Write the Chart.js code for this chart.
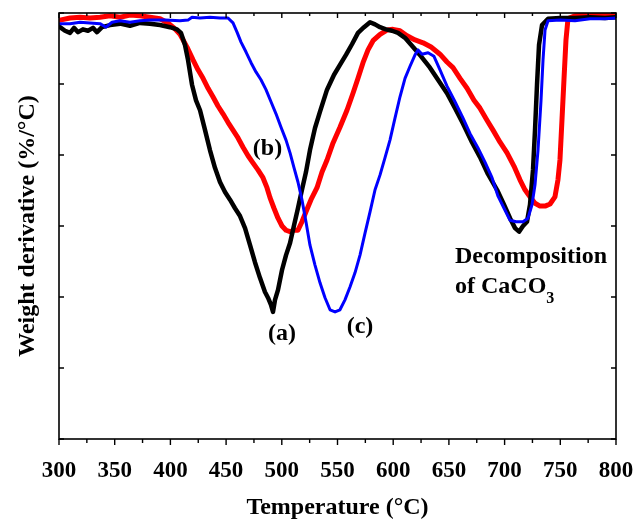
<!DOCTYPE html>
<html><head><meta charset="utf-8">
<script src="https://cdn.jsdelivr.net/npm/chart.js@4.4.1/dist/chart.umd.min.js"></script>
<style>html,body{margin:0;padding:0;background:#fff}canvas{display:block}</style>
</head><body>
<canvas id="c" width="638" height="525"></canvas>
<script>
// Temperature (°C) and weight-derivative values (arbitrary units, axis 0..6)
const tempA = [300.9,305.4,309.9,313.5,317.1,321.5,326.0,330.5,334.1,338.6,345.8,354.8,363.7,372.7,381.7,390.7,399.6,405.9,409.5,413.1,415.8,419.4,423.0,426.6,431.1,435.5,440.0,444.5,449.0,453.5,458.0,462.5,467.0,471.5,475.9,480.4,484.9,487.6,490.3,492.1,493.9,496.6,500.2,503.8,507.4,511.0,514.5,518.1,521.7,525.3,529.8,534.3,540.6,546.9,552.2,557.6,563.0,568.4,573.8,579.2,583.7,588.2,593.5,598.9,604.3,610.6,617.8,625.0,633.0,640.2,648.3,655.5,662.7,670.7,677.9,685.1,693.2,699.5,704.9,709.4,713.0,716.5,720.1,722.8,725.5,727.3,729.1,730.9,733.6,739.0,749.8,763.2,776.7,790.1,800];
const valA = [5.80,5.75,5.72,5.79,5.73,5.77,5.75,5.79,5.73,5.80,5.83,5.85,5.82,5.86,5.85,5.83,5.80,5.77,5.72,5.55,5.34,4.99,4.77,4.63,4.35,4.07,3.82,3.62,3.48,3.37,3.25,3.14,2.97,2.73,2.49,2.27,2.07,1.99,1.89,1.79,1.96,2.10,2.38,2.59,2.76,3.01,3.25,3.51,3.76,4.07,4.38,4.61,4.92,5.13,5.27,5.41,5.56,5.72,5.80,5.87,5.84,5.80,5.77,5.75,5.72,5.65,5.52,5.39,5.23,5.06,4.87,4.66,4.44,4.18,3.97,3.73,3.51,3.30,3.11,2.97,2.92,3.00,3.06,3.30,3.79,4.35,4.99,5.55,5.83,5.92,5.93,5.93,5.94,5.93,5.94];

const tempB = [300.9,309.9,318.9,327.8,336.8,345.8,354.8,363.7,372.7,381.7,390.7,397.8,403.2,408.6,414.9,420.3,424.8,429.3,433.8,438.2,442.7,447.2,451.7,456.2,460.7,465.2,469.7,474.1,478.6,483.1,486.7,489.4,493.0,496.6,500.2,503.8,507.4,511.0,514.5,518.1,521.7,526.2,531.6,536.1,540.6,546.0,552.2,558.5,563.9,568.4,572.9,577.4,581.9,588.2,594.4,599.8,606.1,612.4,619.6,626.8,634.0,642.0,648.3,653.7,660.0,666.3,672.5,677.9,684.2,689.6,695.9,702.2,708.5,713.8,718.3,722.8,727.3,731.8,736.3,740.8,745.2,747.9,749.7,751.5,753.3,755.1,756.9,763.2,772.2,781.2,790.1,800];
const valB = [5.90,5.93,5.94,5.93,5.94,5.96,5.94,5.97,5.96,5.94,5.92,5.86,5.79,5.70,5.52,5.34,5.20,5.08,4.94,4.82,4.69,4.58,4.46,4.35,4.24,4.11,3.99,3.89,3.79,3.68,3.54,3.40,3.25,3.11,3.00,2.94,2.92,2.94,2.94,3.06,3.20,3.37,3.54,3.76,3.93,4.17,4.39,4.63,4.87,5.08,5.30,5.48,5.61,5.70,5.76,5.77,5.75,5.68,5.62,5.58,5.52,5.42,5.31,5.23,5.08,4.94,4.77,4.66,4.49,4.35,4.18,4.03,3.84,3.65,3.51,3.41,3.32,3.28,3.28,3.31,3.41,3.65,3.93,4.49,5.06,5.62,5.92,5.96,5.97,5.99,5.97,5.99];

const tempC = [300.9,309.9,318.9,327.8,336.8,342.2,347.6,354.8,363.7,372.7,381.7,395.2,408.6,415.8,419.4,426.6,435.5,444.5,451.7,456.2,459.8,463.4,467.9,472.4,476.8,481.3,485.8,490.3,494.8,499.3,503.8,507.4,511.0,514.5,518.1,521.7,525.3,529.8,534.3,538.8,543.3,547.8,552.2,556.7,561.2,565.7,570.2,574.7,579.2,583.7,588.2,592.6,597.1,601.6,606.1,610.6,615.1,619.6,622.3,625.9,631.3,636.6,642.0,648.3,655.5,662.7,669.0,676.1,682.4,688.7,694.1,699.5,704.9,710.3,716.5,721.0,724.6,727.3,730.0,732.7,734.5,736.3,739.0,749.8,763.2,776.7,790.1,800];
const valC = [5.85,5.85,5.87,5.86,5.85,5.80,5.87,5.89,5.87,5.89,5.90,5.90,5.89,5.90,5.94,5.93,5.94,5.93,5.93,5.86,5.73,5.59,5.45,5.30,5.17,5.06,4.92,4.75,4.58,4.39,4.21,4.03,3.82,3.62,3.37,3.06,2.73,2.45,2.20,1.99,1.82,1.79,1.82,1.96,2.14,2.34,2.59,2.90,3.20,3.51,3.72,3.96,4.21,4.52,4.82,5.08,5.25,5.41,5.48,5.42,5.44,5.39,5.20,4.97,4.75,4.52,4.30,4.10,3.90,3.68,3.42,3.25,3.08,3.06,3.06,3.11,3.30,3.58,4.07,4.77,5.34,5.76,5.89,5.90,5.89,5.92,5.92,5.93];

const xMin = 300, xMax = 800, xStep = 50;
const yTicks = [0,1,2,3,4,5,6];
const labels = [
  {text:'(a)', t:500.2, v:1.39, align:'center'},
  {text:'(b)', t:487.2, v:4.00, align:'center'},
  {text:'(c)', t:570.2, v:1.49, align:'center'},
  {text:'Decomposition', t:655.5, v:2.48, align:'left'},
  {text:'of CaCO', t:655.5, v:2.06, align:'left', sub:'3'}
];

const zip = (xs, ys) => xs.map((x, i) => ({x, y: ys[i]}));
const FONT = "'Liberation Serif', 'Times New Roman', serif";

const framePlugin = {
  id: 'frame',
  afterDatasetsDraw(chart) {
    const {ctx, chartArea: a, scales: {x, y}} = chart;
    ctx.save();
    ctx.strokeStyle = '#000';
    ctx.lineWidth = 1.6;
    ctx.strokeRect(a.left, a.top, a.right - a.left, a.bottom - a.top);
    ctx.lineWidth = 1.4;
    ctx.beginPath();
    for (let t = xMin; t <= xMax; t += xStep / 2) {
      const px = x.getPixelForValue(t);
      const major = (t - xMin) % xStep === 0;
      const L = major ? 6 : 4;
      ctx.moveTo(px, a.bottom); ctx.lineTo(px, a.bottom + L);
      ctx.moveTo(px, a.top); ctx.lineTo(px, a.top + (major ? 5 : 3));
    }
    yTicks.forEach(v => {
      const py = y.getPixelForValue(v);
      ctx.moveTo(a.left, py); ctx.lineTo(a.left + 5, py);
      ctx.moveTo(a.right, py); ctx.lineTo(a.right - 5, py);
    });
    ctx.stroke();
    // annotations
    ctx.fillStyle = '#000';
    ctx.textBaseline = 'alphabetic';
    labels.forEach(l => {
      ctx.font = 'bold 24px ' + FONT;
      ctx.textAlign = l.align;
      const px = x.getPixelForValue(l.t), py = y.getPixelForValue(l.v);
      ctx.fillText(l.text, px, py);
      if (l.sub) {
        const w = ctx.measureText(l.text).width;
        ctx.font = 'bold 16px ' + FONT;
        ctx.textAlign = 'left';
        ctx.fillText(l.sub, px + w, py + 10);
      }
    });
    ctx.restore();
  }
};

new Chart(document.getElementById('c'), {
  type: 'line',
  data: {
    datasets: [
      {label:'(c)', data: zip(tempC, valC), borderColor:'#0000ff', borderWidth:3, order:0},
      {label:'(a)', data: zip(tempA, valA), borderColor:'#000000', borderWidth:4.5, order:1},
      {label:'(b)', data: zip(tempB, valB), borderColor:'#ff0000', borderWidth:5, order:2}
    ]
  },
  options: {
    responsive: false,
    animation: false,
    devicePixelRatio: 1,
    elements: { point: { radius: 0 }, line: { tension: 0, borderJoinStyle: 'round', borderCapStyle: 'round' } },
    layout: { padding: { top: 13, right: 22, left: 0, bottom: 0 } },
    plugins: { legend: { display: false }, tooltip: { enabled: false } },
    scales: {
      x: {
        type: 'linear', min: xMin, max: xMax,
        afterFit(s) { s.height = 86; s.paddingLeft = 0; s.paddingRight = 0; },
        grid: { display: false },
        border: { display: false },
        ticks: { stepSize: xStep, color: '#000', padding: 10, maxRotation: 0,
                 font: { family: FONT, size: 23, weight: 'bold' } },
        title: { display: true, text: 'Temperature (°C)', color: '#000',
                 font: { family: FONT, size: 24, weight: 'bold' }, padding: { top: 0, bottom: 3 } }
      },
      y: {
        type: 'linear', min: 0, max: 6,
        afterFit(s) { s.width = 59; s.paddingTop = 0; s.paddingBottom = 0; },
        grid: { display: false },
        border: { display: false },
        ticks: { display: false, stepSize: 1 },
        title: { display: true, text: 'Weight derivative (%/°C)', color: '#000',
                 font: { family: FONT, size: 24, weight: 'bold' }, padding: { top: 13, bottom: 0 } }
      }
    }
  },
  plugins: [framePlugin]
});
</script>
</body></html>
